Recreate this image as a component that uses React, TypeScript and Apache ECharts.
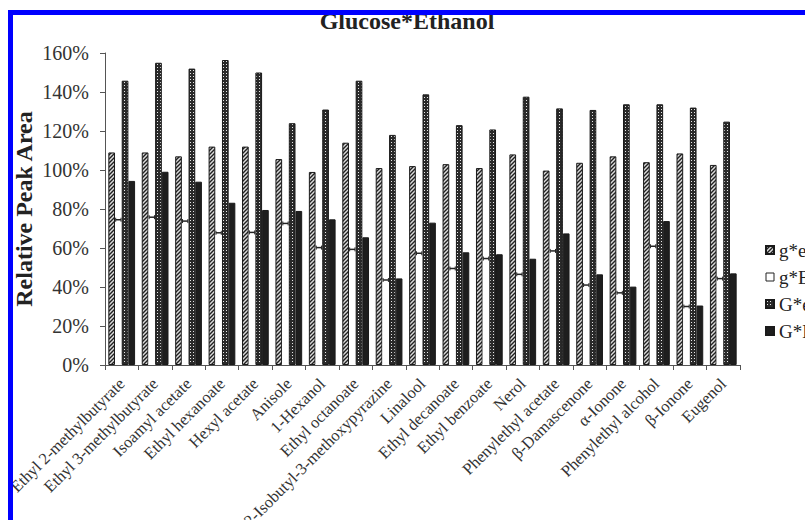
import React, { useEffect, useRef } from 'react';
import * as echarts from 'echarts';

const categories = [
  'Ethyl 2-methylbutyrate',
  'Ethyl 3-methylbutyrate',
  'Isoamyl acetate',
  'Ethyl hexanoate',
  'Hexyl acetate',
  'Anisole',
  '1-Hexanol',
  'Ethyl octanoate',
  '2-Isobutyl-3-methoxypyrazine',
  'Linalool',
  'Ethyl decanoate',
  'Ethyl benzoate',
  'Nerol',
  'Phenylethyl acetate',
  'β-Damascenone',
  'α-Ionone',
  'Phenylethyl alcohol',
  'β-Ionone',
  'Eugenol',
];

const seriesNames = ['g*e', 'g*E', 'G*e', 'G*E'];

const ge = [109, 109, 107, 112, 112, 105.6, 99, 114, 101, 102, 103, 101, 108, 99.7, 103.7, 107, 104, 108.5, 102.6];
const gE = [74.5, 75.8, 73.8, 67.8, 68, 72.6, 60.2, 59.3, 43.6, 57.3, 49.5, 54.6, 46.5, 58.5, 41, 37, 60.9, 30, 44.3];
const Ge = [145.8, 155, 152, 156.4, 150, 124, 131, 145.8, 118, 138.8, 123, 120.8, 137.6, 131.6, 130.8, 133.7, 133.7, 132, 124.8];
const GE = [94.4, 99.1, 94, 83.2, 79.5, 79, 74.7, 65.5, 44.4, 73, 57.8, 56.8, 54.5, 67.5, 46.5, 40.2, 73.8, 30.5, 47];

const yMin = 0;
const yMax = 160;
const yInterval = 20;

const SERIF = '"Liberation Serif", "Times New Roman", serif';

function makeHatch() {
  const c = document.createElement('canvas');
  c.width = 4;
  c.height = 4;
  const ctx = c.getContext('2d')!;
  ctx.fillStyle = '#dcdcdc';
  ctx.fillRect(0, 0, 4, 4);
  ctx.strokeStyle = '#202020';
  ctx.lineWidth = 1.4;
  ctx.beginPath();
  ctx.moveTo(-1, 5);
  ctx.lineTo(5, -1);
  ctx.moveTo(-1, 1);
  ctx.lineTo(1, -1);
  ctx.moveTo(3, 5);
  ctx.lineTo(5, 3);
  ctx.stroke();
  return c;
}

function makeDots() {
  const c = document.createElement('canvas');
  c.width = 3;
  c.height = 3;
  const ctx = c.getContext('2d')!;
  ctx.fillStyle = '#2a2a2a';
  ctx.fillRect(0, 0, 3, 3);
  ctx.fillStyle = '#e8e8e8';
  ctx.fillRect(1, 1, 1, 1);
  return c;
}

export default function App() {
  const ref = useRef<HTMLDivElement>(null);

  useEffect(() => {
    if (!ref.current) return;
    const chart = echarts.init(ref.current, null, { renderer: 'svg' });
    const hatch = { image: makeHatch(), repeat: 'repeat' };
    const dots = { image: makeDots(), repeat: 'repeat' };

    const option: any = {
      animation: false,
      backgroundColor: '#ffffff',
      title: {
        text: 'Glucose*Ethanol',
        left: 407,
        textAlign: 'center',
        top: 9,
        padding: 0,
        textStyle: { fontFamily: SERIF, fontSize: 24, fontWeight: 'bold', color: '#222' },
      },
      grid: {
        left: 105,
        right: 65,
        top: 53,
        bottom: 155,
        containLabel: false,
        outerBoundsMode: 'none',
      },
      legend: {
        orient: 'vertical',
        left: 760,
        top: 235,
        itemWidth: 8,
        itemHeight: 8,
        itemGap: 7,
        icon: 'rect',
        selectedMode: false,
        textStyle: { fontFamily: SERIF, fontSize: 19, color: '#222', lineHeight: 20 },
        data: [
          { name: 'g*e' },
          { name: 'g*E', itemStyle: { color: '#fff', borderColor: '#222', borderWidth: 1 } },
          { name: 'G*e' },
          { name: 'G*E' },
        ],
      },
      xAxis: {
        type: 'category',
        data: categories,
        boundaryGap: true,
        axisLine: { lineStyle: { color: '#555', width: 1 } },
        axisTick: { show: true, length: 5, alignWithLabel: false, lineStyle: { color: '#555' } },
        axisLabel: {
          interval: 0,
          rotate: 45,
          margin: 16,
          fontFamily: SERIF,
          fontSize: 16.5,
          color: '#333',
        },
      },
      yAxis: {
        type: 'value',
        min: yMin,
        max: yMax,
        interval: yInterval,
        splitLine: { show: false },
        axisLine: { show: true, lineStyle: { color: '#555', width: 1 } },
        axisTick: { show: true, length: 5, lineStyle: { color: '#555' } },
        axisLabel: {
          formatter: '{value}%',
          fontFamily: SERIF,
          fontSize: 20,
          color: '#333',
          margin: 16,
        },
      },
      series: [
        {
          name: seriesNames[0],
          type: 'bar',
          data: ge,
          barWidth: '20%',
          barGap: '0%',
          itemStyle: { color: hatch, borderColor: '#1a1a1a', borderWidth: 1 },
        },
        {
          name: seriesNames[1],
          type: 'bar',
          data: gE,
          barWidth: '20%',
          barGap: '0%',
          itemStyle: { color: '#ffffff', borderWidth: 0 },
        },
        {
          name: seriesNames[2],
          type: 'bar',
          data: Ge,
          barWidth: '20%',
          barGap: '0%',
          itemStyle: { color: dots, borderColor: '#1a1a1a', borderWidth: 1 },
        },
        {
          name: seriesNames[3],
          type: 'bar',
          data: GE,
          barWidth: '20%',
          barGap: '0%',
          itemStyle: { color: '#1e1e1e', borderColor: '#1a1a1a', borderWidth: 1 },
        },
        {
          name: 'err',
          type: 'custom',
          z: 5,
          data: gE.map((v, i) => [i, v]),
          encode: { x: 0, y: 1 },
          renderItem: (params: any, api: any) => {
            const p = api.coord([api.value(0), api.value(1)]);
            const cw = api.size([1, 0])[0];
            const bw = cw * 0.2;
            const cx = p[0] - 0.5 * bw;
            const y = p[1];
            const h = bw * 0.4;
            return {
              type: 'group',
              children: [
                {
                  type: 'line',
                  shape: { x1: cx - h, y1: y, x2: cx + h, y2: y },
                  style: { stroke: '#222', lineWidth: 1.5 },
                },
                {
                  type: 'line',
                  shape: { x1: cx - h, y1: y - 2, x2: cx - h, y2: y + 2 },
                  style: { stroke: '#222', lineWidth: 1 },
                },
                {
                  type: 'line',
                  shape: { x1: cx + h, y1: y - 2, x2: cx + h, y2: y + 2 },
                  style: { stroke: '#222', lineWidth: 1 },
                },
              ],
            };
          },
        },
      ],
      graphic: [
        {
          type: 'text',
          x: 24,
          y: 209,
          rotation: Math.PI / 2,
          style: {
            text: 'Relative Peak Area',
            fontFamily: SERIF,
            fontSize: 24,
            fontWeight: 'bold',
            fill: '#222',
            textAlign: 'center',
            textVerticalAlign: 'middle',
          },
        },
        {
          type: 'rect',
          z: 100,
          shape: { x: 8, y: 10, width: 797, height: 5 },
          style: { fill: '#0000ff' },
        },
        {
          type: 'rect',
          z: 100,
          shape: { x: 8, y: 10, width: 5, height: 510 },
          style: { fill: '#0000ff' },
        },
      ],
    };

    chart.setOption(option);
    return () => chart.dispose();
  }, []);

  return (
    <div
      ref={ref}
      style={{ position: 'fixed', left: 0, top: 0, width: 805, height: 520, background: '#fff' }}
    />
  );
}
